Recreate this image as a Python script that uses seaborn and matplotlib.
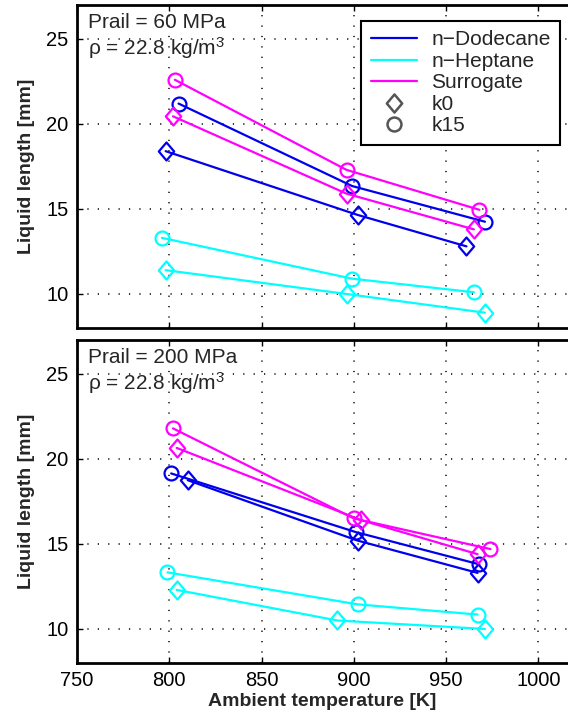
import numpy as np
import pandas as pd
import seaborn as sns
import matplotlib.pyplot as plt
from matplotlib.lines import Line2D
from matplotlib.path import Path

sns.set_theme(style='white')
plt.rcParams['font.family'] = ['Liberation Sans', 'DejaVu Sans']
plt.rcParams['mathtext.default'] = 'regular'

# values (temperature K, liquid length mm)
fuels = ['n-Dodecane', 'n-Heptane', 'Surrogate']
legend_names = ['n\u2212Dodecane', 'n\u2212Heptane', 'Surrogate']
colors = ['#0000ee', '#00ffff', '#ff00ff']

# Prail = 60 MPa
t60_dod_k0 = [798, 902, 961]
l60_dod_k0 = [18.4, 14.65, 12.8]
t60_dod_k15 = [805, 899, 971]
l60_dod_k15 = [21.2, 16.35, 14.25]
t60_hep_k0 = [798, 896, 971]
l60_hep_k0 = [11.4, 10.0, 8.9]
t60_hep_k15 = [796, 899, 965]
l60_hep_k15 = [13.3, 10.9, 10.1]
t60_sur_k0 = [802, 896, 965]
l60_sur_k0 = [20.45, 15.9, 13.8]
t60_sur_k15 = [803, 896, 968]
l60_sur_k15 = [22.6, 17.3, 14.95]

# Prail = 200 MPa
t200_dod_k0 = [810, 902, 967]
l200_dod_k0 = [18.75, 15.2, 13.3]
t200_dod_k15 = [801, 901, 968]
l200_dod_k15 = [19.15, 15.7, 13.8]
t200_hep_k0 = [804, 891, 971]
l200_hep_k0 = [12.3, 10.5, 10.0]
t200_hep_k15 = [799, 902, 967]
l200_hep_k15 = [13.33, 11.45, 10.85]
t200_sur_k0 = [804, 904, 967]
l200_sur_k0 = [20.65, 16.4, 14.4]
t200_sur_k15 = [802, 900, 974]
l200_sur_k15 = [21.8, 16.5, 14.7]


def make_df(rows):
    parts = []
    for fuel, k, t, l in rows:
        parts.append(pd.DataFrame({'T': t, 'L': l, 'fuel': fuel, 'k': k}))
    return pd.concat(parts, ignore_index=True)


df60 = make_df([
    ('n-Dodecane', 'k0', t60_dod_k0, l60_dod_k0),
    ('n-Dodecane', 'k15', t60_dod_k15, l60_dod_k15),
    ('n-Heptane', 'k0', t60_hep_k0, l60_hep_k0),
    ('n-Heptane', 'k15', t60_hep_k15, l60_hep_k15),
    ('Surrogate', 'k0', t60_sur_k0, l60_sur_k0),
    ('Surrogate', 'k15', t60_sur_k15, l60_sur_k15),
])
df200 = make_df([
    ('n-Dodecane', 'k0', t200_dod_k0, l200_dod_k0),
    ('n-Dodecane', 'k15', t200_dod_k15, l200_dod_k15),
    ('n-Heptane', 'k0', t200_hep_k0, l200_hep_k0),
    ('n-Heptane', 'k15', t200_hep_k15, l200_hep_k15),
    ('Surrogate', 'k0', t200_sur_k0, l200_sur_k0),
    ('Surrogate', 'k15', t200_sur_k15, l200_sur_k15),
])

# matlab-like diamond (wider than mpl 'd')
diamond = Path([(0, 1), (0.85, 0), (0, -1), (-0.85, 0), (0, 1)],
               [Path.MOVETO, Path.LINETO, Path.LINETO, Path.LINETO, Path.CLOSEPOLY])

fig = plt.figure(figsize=(5.68, 7.28), dpi=100)
ax1 = fig.add_axes([0.1356, 0.5495, 0.8644, 0.4437])
ax2 = fig.add_axes([0.1356, 0.0893, 0.8644, 0.4437])

palette = dict(zip(fuels, colors))
mk = {'k0': diamond, 'k15': 'o'}

for ax, df, prail in [(ax1, df60, '60'), (ax2, df200, '200')]:
    sns.lineplot(data=df, x='T', y='L', hue='fuel', style='k', hue_order=fuels,
                 palette=palette, markers=mk, dashes=False, legend=False,
                 linewidth=1.6, ax=ax, estimator=None, sort=True)
    for ln in ax.lines:
        ln.set_markerfacecolor('none')
        ln.set_markeredgecolor(ln.get_color())
        ln.set_markeredgewidth(1.6)
        ln.set_markersize(10 if isinstance(ln.get_marker(), str) else 13)
    ax.set_xlim(750, 1016)
    ax.set_ylim(8, 27)
    ax.set_xticks([750, 800, 850, 900, 950, 1000])
    ax.set_yticks([10, 15, 20, 25])
    ax.grid(True, color='black', linestyle=(0, (0.8, 6)), linewidth=1.1)
    for s in ['left', 'bottom', 'top']:
        ax.spines[s].set_color('black')
        ax.spines[s].set_linewidth(2)
    ax.spines['right'].set_visible(False)
    ax.tick_params(direction='in', length=4, width=1, colors='black',
                   labelsize=14.5, top=True, bottom=True, left=True, pad=6)
    ax.set_ylabel('Liquid length [mm]', fontsize=14, fontweight='bold', labelpad=8)
    ax.text(0.022, 0.975, 'Prail = ' + prail + ' MPa\n\u03c1 = 22.8 kg/m$^3$',
            transform=ax.transAxes, ha='left', va='top', fontsize=15,
            linespacing=1.15)

ax1.set_xlabel('')
ax1.set_xticklabels([])
ax2.set_xlabel('Ambient temperature [K]', fontsize=14, fontweight='bold', labelpad=2)

handles = [Line2D([], [], color=c, linewidth=1.6) for c in colors]
handles += [Line2D([], [], linestyle='none', marker=diamond, markersize=13, mfc='none',
                   mec='#555555', mew=1.8),
            Line2D([], [], linestyle='none', marker='o', markersize=10, mfc='none',
                   mec='#555555', mew=1.8)]
leg = ax1.legend(handles, legend_names + ['k0', 'k15'], loc='upper right',
                 bbox_to_anchor=(560 / 568, 1 - 21 / 728),
                 bbox_transform=fig.transFigure, borderaxespad=0, fontsize=15,
                 frameon=True, fancybox=False, framealpha=1, handlelength=2.2,
                 labelspacing=0.12, handletextpad=0.7, borderpad=0.45)
leg.get_frame().set_edgecolor('black')
leg.get_frame().set_linewidth(1.5)

fig.savefig('out.png', dpi=100)
